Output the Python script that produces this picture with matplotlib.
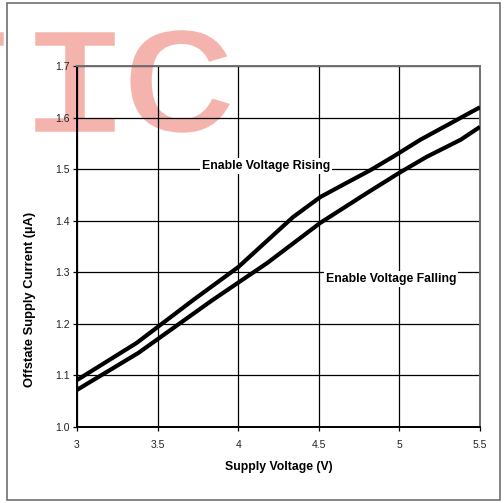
import matplotlib
matplotlib.use('Agg')
import matplotlib.pyplot as plt
from matplotlib.patches import Rectangle, PathPatch
from matplotlib.textpath import TextPath
from matplotlib.font_manager import FontProperties
from matplotlib.transforms import Affine2D

plt.rcParams['font.family'] = ['Liberation Sans', 'DejaVu Sans']

# curves
x_rising = [3.0, 3.37, 3.72, 4.0, 4.34, 4.51, 4.67, 4.82, 4.96, 5.13, 5.5]
y_rising = [1.091, 1.163, 1.246, 1.310, 1.407, 1.446, 1.473, 1.498, 1.524, 1.557, 1.620]
x_falling = [3.0, 3.38, 3.84, 4.18, 4.51, 4.80, 5.0, 5.17, 5.38, 5.5]
y_falling = [1.072, 1.1435, 1.246, 1.318, 1.396, 1.454, 1.493, 1.524, 1.557, 1.582]

x_ticks = [3, 3.5, 4, 4.5, 5, 5.5]
x_ticklabels = ['3', '3.5', '4', '4.5', '5', '5.5']
y_ticks = [1.0, 1.1, 1.2, 1.3, 1.4, 1.5, 1.6, 1.7]
y_ticklabels = ['1.0', '1.1', '1.2', '1.3', '1.4', '1.5', '1.6', '1.7']

fig = plt.figure(figsize=(5.04, 5.03), dpi=100)

# outer frame
fig.patches.append(Rectangle((7/504, 3/503), 493/504, 497/503, transform=fig.transFigure,
                             fill=False, edgecolor='#707070', linewidth=1.2))

# watermark letters, stretched to fit the "I" box (pixels)
wm = '#f4b4ad'
fp = FontProperties(family='Liberation Mono')
ipath = TextPath((0, 0), 'I', size=1, prop=fp)
ib = ipath.get_extents()
sx = 77 / ib.width
sy = 97 / ib.height
shifts = [-(104 + 19) / sx, 0, 104 / sx]   # T mostly off the left edge
paths = [TextPath((d, 0), ch, size=1, prop=fp) for d, ch in zip(shifts, 'TIC')]
tr = Affine2D().translate(-ib.x0, -ib.y0).scale(sx, sy).translate(36, 503 - 130)
for p in paths:
    fig.patches.append(PathPatch(p, transform=tr, facecolor=wm, edgecolor=wm,
                                 linewidth=1.8, zorder=-5))

ax = fig.add_axes([77/504, 1 - 427/503, 403/504, 361/503])
ax.patch.set_alpha(0)

ax.plot(x_rising, y_rising, color='black', linewidth=3, solid_capstyle='butt', zorder=3)
ax.plot(x_falling, y_falling, color='black', linewidth=3, solid_capstyle='butt', zorder=3)

ax.set_xlim(3, 5.5)
ax.set_ylim(1.0, 1.7)
ax.set_xticks(x_ticks)
ax.set_xticklabels(x_ticklabels)
ax.set_yticks(y_ticks)
ax.set_yticklabels(y_ticklabels)
ax.grid(True, color='black', linewidth=0.9)
ax.tick_params(direction='out', length=3, width=0.9, labelsize=7.5, labelcolor='#222222', pad=2)
ax.tick_params(axis='x', pad=6)

ax.spines['top'].set_color('#707070')
ax.spines['right'].set_color('#707070')
for s in ax.spines.values():
    s.set_linewidth(1.4)

ax.set_xlabel('Supply Voltage (V)', fontsize=8.8, fontweight='bold', labelpad=8)
ax.set_ylabel('Offstate Supply Current (µA)', fontsize=9.4, fontweight='bold')
ax.yaxis.set_label_coords(-0.102, 0.352)

box = dict(facecolor='white', edgecolor='none', pad=1.5)
ax.text(4.172, 1.506, 'Enable Voltage Rising', fontsize=8.8, fontweight='bold',
        ha='center', va='center', bbox=box, zorder=2)
ax.text(4.948, 1.287, 'Enable Voltage Falling', fontsize=8.8, fontweight='bold',
        ha='center', va='center', bbox=box, zorder=2)

fig.savefig('out.png', dpi=100)
